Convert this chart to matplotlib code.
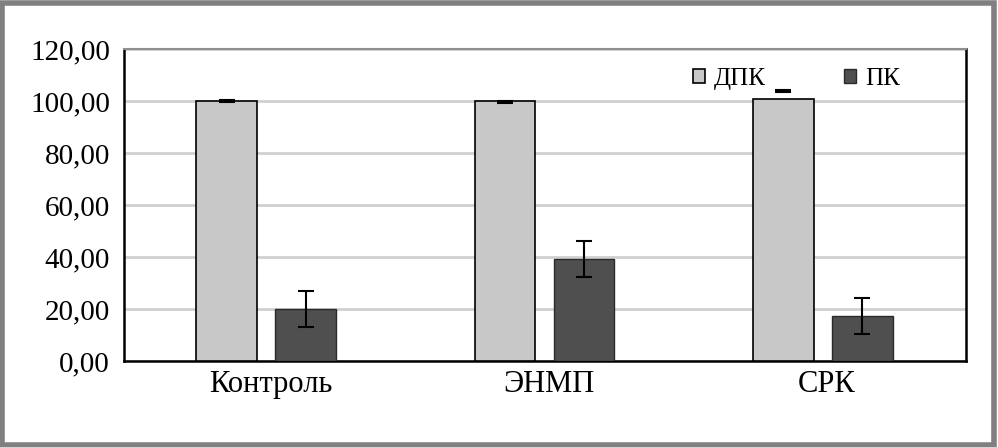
import numpy as np
import matplotlib.pyplot as plt
from matplotlib.patches import Rectangle
from matplotlib.ticker import FuncFormatter

plt.rcParams['font.family'] = ['Liberation Serif', 'DejaVu Serif']

# ----------------------------
# Data
# ----------------------------
categories = ["Контроль", "ЭНМП", "СРК"]
series_names = ["ДПК", "ПК"]

dpk_values = [100.0, 100.0, 100.8]
dpk_err_center = [100.0, 99.7, 103.8]
dpk_err = [0.4, 0.4, 0.4]

pk_values = [20.0, 39.2, 17.3]
pk_err = [6.8, 6.9, 6.9]

yticks = [0, 20, 40, 60, 80, 100, 120]

# ----------------------------
# Plot
# ----------------------------
fig = plt.figure(figsize=(9.98, 4.47), dpi=100)
ax = fig.add_axes([0.124, 0.192, 0.844, 0.698])

x = np.arange(len(categories))
width = 0.219
off = 0.142

ax.bar(x - off, dpk_values, width, color="#c8c8c8", edgecolor="black",
       linewidth=1.2, label=series_names[0], zorder=3)
ax.bar(x + off, pk_values, width, color="#4f4f4f", edgecolor="#2a2a2a",
       linewidth=1.0, label=series_names[1], zorder=3)

ax.errorbar(x - off, dpk_err_center, yerr=dpk_err, fmt="none",
            ecolor="black", elinewidth=1.5, capsize=6, capthick=1.5, zorder=4)
ax.errorbar(x + off, pk_values, yerr=pk_err, fmt="none",
            ecolor="black", elinewidth=1.5, capsize=6, capthick=1.5, zorder=4)

ax.set_xlim(-0.513, 2.516)
ax.set_ylim(0, 120)
ax.set_yticks(yticks)
ax.yaxis.set_major_formatter(FuncFormatter(lambda v, p: f"{v:.2f}".replace(".", ",")))
ax.set_xticks(x + 0.015)
ax.set_xticklabels(categories)
ax.tick_params(axis="y", length=0, labelsize=21, pad=10)
ax.tick_params(axis="x", length=0, labelsize=22, pad=6)

ax.grid(axis="y", color="#d0d0d0", linewidth=2, zorder=0)
ax.set_axisbelow(True)
for side in ["left", "right", "bottom"]:
    ax.spines[side].set_color("black")
    ax.spines[side].set_linewidth(1.8)
ax.spines["top"].set_color("#909090")
ax.spines["top"].set_linewidth(1.5)

ax.legend(loc="upper right", ncol=2, frameon=False, fontsize=18,
          handlelength=0.5, handleheight=0.5, handletextpad=0.35,
          columnspacing=3.1, bbox_to_anchor=(0.948, 1.012))

# grey outer frame
fig.patches.append(Rectangle((0.002, 0.004), 0.994, 0.99, transform=fig.transFigure,
                             fill=False, edgecolor="#808080", linewidth=4))

fig.savefig("out.png", dpi=100, facecolor="white")
